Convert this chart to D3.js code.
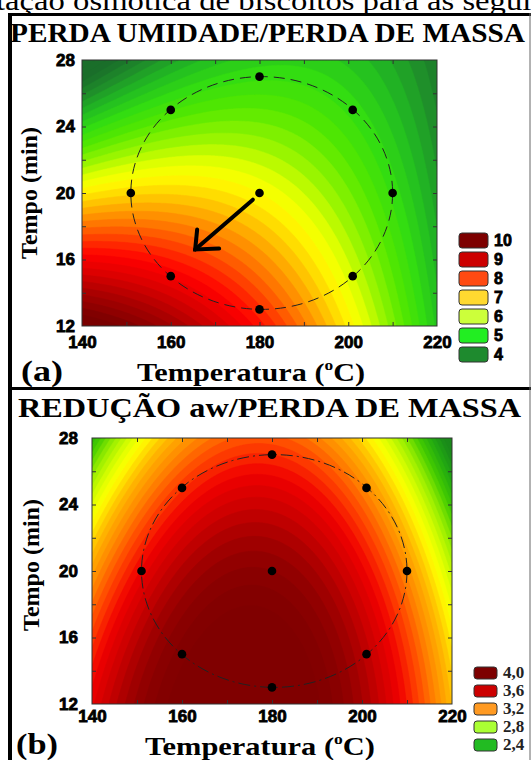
<!DOCTYPE html>
<html>
<head>
<meta charset="utf-8">
<script src="https://cdn.jsdelivr.net/npm/d3@7"></script>
<style>
body { margin: 0; background: #fff; }
svg text { font-family: "Liberation Serif", "Times New Roman", serif; }
.tick text { font-family: "Liberation Sans", Arial, sans-serif; font-weight: bold; fill: #000; stroke: #000; stroke-width: 0.8px; }
</style>
</head>
<body>
<svg width="531" height="760"></svg>
<script>
// design points (Temperatura, Tempo)
let tempPts = [180, 160, 201, 151, 180, 210, 160, 201, 180]
let timePts = [27, 25, 25, 20, 20, 20, 15, 15, 13]

let xTicks = [140, 160, 180, 200, 220]
let yTicks = [12, 16, 20, 24, 28]
let xMinor = [150, 160, 170, 180, 190, 200, 210]
let yMinor = [14, 16, 18, 20, 22, 24, 26]

// fitted surface in coded units u=(T-180)/30, v=(t-20)/7 : b0, bu, bv, buu, bvv, buv, buuv
let coefA = [7.0, -1.0, -1.66, -0.67, 0.0, 1.16, -0.163]
let coefB = [3.95, -0.15, -0.33, -0.52, -0.12, 0.03, -0.07]

let stopsA = [3.8, 4.3, 4.8, 5.3, 5.8, 6.3, 6.7, 7.0, 7.3, 7.7, 8.1, 8.6, 9.0, 9.5, 10.1, 10.8]
let stopColorsA = ["#1a6e2a", "#1f8f2a", "#22bb22", "#33dd11", "#55e800", "#99f500", "#ddff00", "#ffff00", "#ffdd00", "#ffaa00", "#ff7700", "#ff3300", "#ff0000", "#dd0000", "#aa0000", "#7a0000"]
let stopsB = [2.3, 2.45, 2.6, 2.75, 2.9, 3.0, 3.15, 3.3, 3.45, 3.6, 3.75, 3.85, 3.95, 4.05]
let stopColorsB = ["#1a8a1a", "#22aa11", "#44cc00", "#99ee00", "#ddff00", "#ffff00", "#ffbb00", "#ff8800", "#ff4400", "#f00000", "#c80000", "#a50000", "#8c0000", "#800000"]

let legendA = ["10", "9", "8", "7", "6", "5", "4"]
let legendAColors = ["#7d0000", "#cc0000", "#ff4a12", "#ffd930", "#ccff3a", "#22ee22", "#1e8a2e"]
let legendB = ["4,0", "3,6", "3,2", "2,8", "2,4"]
let legendBColors = ["#7d0000", "#cc0000", "#ff9a22", "#aaff33", "#22bb22"]

// arrow in panel (a), from -> to
let arrowT = [178.5, 165.5]
let arrowt = [19.6, 16.6]

let svg = d3.select("svg")
svg.append("rect").attr("width", 531).attr("height", 760).attr("fill", "#fff")

// cropped text line from the page above
svg.append("text")
    .attr("x", -4).attr("y", 10)
    .attr("textLength", 588).attr("lengthAdjust", "spacingAndGlyphs")
    .style("font-size", "27px")
    .text("tação osmótica de biscoitos para as seguintes")

// panel frames
svg.append("line").attr("x1", 8).attr("x2", 531).attr("y1", 14.5).attr("y2", 14.5).style("stroke", "#000").style("stroke-width", 3)
svg.append("line").attr("x1", 8).attr("x2", 531).attr("y1", 388.5).attr("y2", 388.5).style("stroke", "#000").style("stroke-width", 3)
svg.append("line").attr("x1", 10).attr("x2", 10).attr("y1", 13).attr("y2", 760).style("stroke", "#000").style("stroke-width", 4)
svg.append("line").attr("x1", 530).attr("x2", 530).attr("y1", 13).attr("y2", 760).style("stroke", "#666").style("stroke-width", 1)

function model(c, T, t) {
    let u = (T - 180) / 30, v = (t - 20) / 7
    return c[0] + c[1] * u + c[2] * v + c[3] * u * u + c[4] * v * v + c[5] * u * v + c[6] * u * u * v
}

function panel(o) {
    let g = svg.append("g")
    let x = d3.scaleLinear().domain([140, 220]).range([o.x0, o.x1])
    let y = d3.scaleLinear().domain([12, 28]).range([o.y1, o.y0])
    let color = d3.scaleLinear().domain(o.stops).range(o.colors).clamp(true)

    let gw = 240, gh = 180
    let values = new Array(gw * gh)
    for (let j = 0; j < gh; j++) {
        for (let i = 0; i < gw; i++) {
            let T = x.invert(o.x0 + (i + 0.5) * (o.x1 - o.x0) / gw)
            let t = y.invert(o.y0 + (j + 0.5) * (o.y1 - o.y0) / gh)
            values[j * gw + i] = model(o.coef, T, t)
        }
    }
    let thresholds = d3.range(o.lo, o.hi, o.step)
    let bands = d3.contours().size([gw, gh]).thresholds(thresholds)(values)

    let proj = d3.geoTransform({
        point: function (px, py) {
            this.stream.point(o.x0 + px * (o.x1 - o.x0) / gw, o.y0 + py * (o.y1 - o.y0) / gh)
        }
    })
    let path = d3.geoPath(proj)

    g.append("clipPath").attr("id", "clip-" + o.id)
        .append("rect").attr("x", o.x0).attr("y", o.y0).attr("width", o.x1 - o.x0).attr("height", o.y1 - o.y0)

    g.append("g").attr("clip-path", "url(#clip-" + o.id + ")")
        .selectAll("path")
        .data(bands)
        .join("path")
        .attr("d", path)
        .style("fill", d => color(d.value + o.step / 2))
        .style("stroke", d => color(d.value + o.step / 2))
        .style("stroke-width", 0.5)

    // inner minor ticks
    g.append("g").attr("transform", `translate(0,${o.y1})`).call(d3.axisBottom(x).tickValues(xMinor).tickSize(-4).tickFormat(""))
    g.append("g").attr("transform", `translate(0,${o.y0})`).call(d3.axisTop(x).tickValues(xMinor).tickSize(-4).tickFormat(""))
    g.append("g").attr("transform", `translate(${o.x0},0)`).call(d3.axisLeft(y).tickValues(yMinor).tickSize(-4).tickFormat(""))
    g.append("g").attr("transform", `translate(${o.x1},0)`).call(d3.axisRight(y).tickValues(yMinor).tickSize(-4).tickFormat(""))
    g.selectAll(".domain").remove()
    g.selectAll(".tick line").style("stroke", "#333")

    g.append("rect")
        .attr("x", o.x0).attr("y", o.y0).attr("width", o.x1 - o.x0).attr("height", o.y1 - o.y0)
        .style("fill", "none").style("stroke", "#333").style("stroke-width", 1)

    // labelled axes
    let xa = g.append("g").attr("transform", `translate(0,${o.y1})`)
        .call(d3.axisBottom(x).tickValues(xTicks).tickSize(0).tickPadding(o.xPad))
    let ya = g.append("g").attr("transform", `translate(${o.x0},0)`)
        .call(d3.axisLeft(y).tickValues(yTicks).tickSize(0).tickPadding(o.yPad))
    xa.select(".domain").remove()
    ya.select(".domain").remove()
    g.selectAll(".tick text").style("font-size", "17px")

    // design ellipse and points
    g.append("ellipse")
        .attr("cx", x(180.5)).attr("cy", y(20))
        .attr("rx", x(210) - x(180.5)).attr("ry", y(13) - y(20))
        .style("fill", "none").style("stroke", "#222").style("stroke-width", 1)
        .style("stroke-dasharray", o.dash)

    g.selectAll(".pt")
        .data(tempPts)
        .join("circle")
        .attr("cx", d => x(d))
        .attr("cy", (d, i) => y(timePts[i]))
        .attr("r", 4.3)
        .style("fill", "#000")

    // legend
    let lg = g.append("g")
    lg.selectAll("rect")
        .data(o.legend)
        .join("rect")
        .attr("x", o.lx).attr("y", (d, i) => o.ly + i * o.lstep)
        .attr("width", o.lw).attr("height", o.lh)
        .attr("rx", 3)
        .style("fill", (d, i) => o.legendColors[i])
        .style("stroke", "#333").style("stroke-width", 1)
    lg.selectAll("text")
        .data(o.legend)
        .join("text")
        .attr("x", o.lx + o.lw + 6).attr("y", (d, i) => o.ly + i * o.lstep + o.lh / 2 + 5)
        .style("font-family", o.legendFont)
        .style("font-weight", "bold")
        .style("font-size", o.legendSize)
        .style("fill", o.legendFill)
        .style("stroke", o.legendStroke)
        .style("stroke-width", 0.8)
        .text(d => d)

    // titles
    g.append("text")
        .attr("x", o.titleX).attr("y", o.titleY)
        .attr("textLength", o.titleW).attr("lengthAdjust", "spacingAndGlyphs")
        .style("font-size", "27px").style("font-weight", "bold")
        .text(o.title)

    g.append("text")
        .attr("transform", `translate(${o.ylabX},${o.ylabY}) rotate(-90)`)
        .attr("text-anchor", "middle")
        .style("font-size", "24px").style("font-weight", "bold")
        .text("Tempo (min)")

    let xl = g.append("text")
        .attr("x", o.xlabX).attr("y", o.xlabY)
        .attr("textLength", o.xlabW).attr("lengthAdjust", "spacingAndGlyphs")
        .style("font-size", "26px").style("font-weight", "bold")
    xl.append("tspan").text("Temperatura (")
    xl.append("tspan").attr("dy", -11).style("font-size", "15px").text("o")
    xl.append("tspan").attr("dy", 11).text("C)")

    g.append("text")
        .attr("x", o.tagX).attr("y", o.tagY)
        .attr("textLength", 42).attr("lengthAdjust", "spacingAndGlyphs")
        .style("font-size", "30px").style("font-weight", "bold")
        .text(o.tag)

    return { x: x, y: y, g: g }
}

let pa = panel({
    id: "a", x0: 82, x1: 437, y0: 60, y1: 326,
    coef: coefA, stops: stopsA, colors: stopColorsA, lo: 2.0, hi: 13, step: 0.2,
    xPad: 10, yPad: 7, dash: "11,6",
    legend: legendA, legendColors: legendAColors,
    lx: 459, ly: 233, lw: 29, lh: 15, lstep: 19,
    legendFont: "'Liberation Sans', Arial, sans-serif", legendSize: "16px", legendFill: "#000", legendStroke: "#000",
    title: "PERDA UMIDADE/PERDA DE MASSA", titleX: 10, titleY: 42, titleW: 515,
    ylabX: 37, ylabY: 193,
    xlabX: 137, xlabY: 381, xlabW: 228,
    tag: "(a)", tagX: 21, tagY: 381
})

// arrow
let ax = pa.x, ay = pa.y
pa.g.append("line")
    .attr("x1", ax(arrowT[0])).attr("y1", ay(arrowt[0]))
    .attr("x2", ax(arrowT[1])).attr("y2", ay(arrowt[1]))
    .style("stroke", "#000").style("stroke-width", 4).style("stroke-linecap", "round")
pa.g.append("path")
    .attr("d", `M${ax(arrowT[1]) + 24},${ay(arrowt[1]) - 1}L${ax(arrowT[1])},${ay(arrowt[1])}L${ax(arrowT[1]) + 2},${ay(arrowt[1]) - 20}`)
    .style("fill", "none").style("stroke", "#000").style("stroke-width", 4)
    .style("stroke-linejoin", "miter").style("stroke-linecap", "round")

panel({
    id: "b", x0: 92, x1: 452, y0: 438, y1: 704,
    coef: coefB, stops: stopsB, colors: stopColorsB, lo: 1.5, hi: 4.6, step: 0.05,
    xPad: 6, yPad: 14, dash: "12,4,2,4",
    legend: legendB, legendColors: legendBColors,
    lx: 474, ly: 667, lw: 23, lh: 12, lstep: 18,
    legendFont: "'Liberation Serif', 'Times New Roman', serif", legendSize: "17px", legendFill: "#222", legendStroke: "none",
    title: "REDUÇÃO aw/PERDA DE MASSA", titleX: 18, titleY: 417, titleW: 503,
    ylabX: 39, ylabY: 565,
    xlabX: 145, xlabY: 755, xlabW: 230,
    tag: "(b)", tagX: 16, tagY: 754
})
</script>
</body>
</html>
